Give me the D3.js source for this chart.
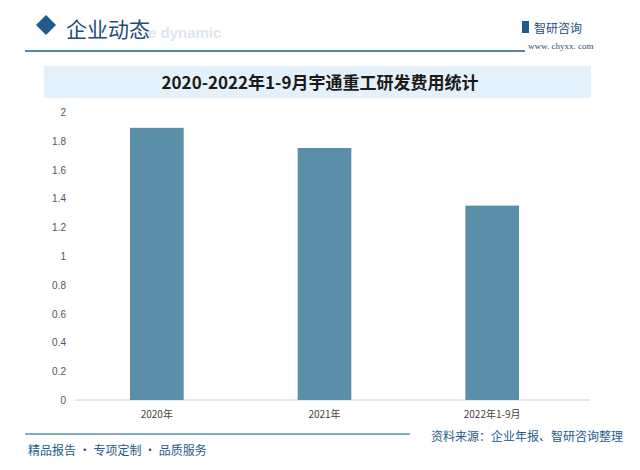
<!DOCTYPE html><html><head><meta charset="utf-8"><script src="https://cdn.jsdelivr.net/npm/d3@7"></script>
<style>body{margin:0;background:#fff}svg{display:block;font-family:"Noto Sans CJK SC",sans-serif}</style></head><body>
<svg id="c" width="640" height="470"></svg>
<script>
const categories=["2020年","2021年","2022年1-9月"];
const values=[1.89,1.75,1.35];
const yTicks=[0,0.2,0.4,0.6,0.8,1,1.2,1.4,1.6,1.8,2];
const svg=d3.select("#c");
// header
svg.append("path").attr("d","M36 25 L46 15 L56 25 L46 35Z").attr("fill","#1f5c8c");
svg.append("text").attr("x",66).attr("y",37).attr("font-size",21).attr("fill","#1f4e79").text("企业动态");
svg.append("text").attr("x",148).attr("y",38).attr("font-size",15).attr("font-weight","bold").attr("fill","#dde6ef").attr("font-family","Liberation Sans").text("e dynamic");
svg.append("line").attr("x1",25).attr("x2",525).attr("y1",51).attr("y2",51).attr("stroke","#1f5c8c").attr("stroke-width",1.5);
svg.append("rect").attr("x",522).attr("y",21).attr("width",7).attr("height",12).attr("fill","#1f5c8c");
svg.append("text").attr("x",534).attr("y",33).attr("font-size",12).attr("fill","#1f4e79").text("智研咨询");
svg.append("text").attr("x",528).attr("y",49).attr("font-size",9).attr("fill","#1f4e79").attr("font-family","Liberation Serif").text("www. chyxx. com");
svg.append("rect").attr("x",44).attr("y",66).attr("width",547).attr("height",32).attr("fill","#e4f1fa");
svg.append("text").attr("x",320).attr("y",89).attr("text-anchor","middle").attr("font-size",17).attr("font-weight","bold").attr("fill","#1a1a1a").attr("font-family","Noto Sans CJK SC").text("2020-2022年1-9月宇通重工研发费用统计");
// chart
const x=d3.scaleBand().domain(categories).range([73,576]).paddingInner(0.68).paddingOuter(0.34);
const y=d3.scaleLinear().domain([0,2]).range([400,112]);
const g=svg.append("g");
g.append("line").attr("x1",75).attr("x2",590).attr("y1",400).attr("y2",400).attr("stroke","#d0d0d0");
g.selectAll(".yt").data(yTicks).join("text").attr("x",66).attr("y",d=>y(d)+4).attr("text-anchor","end").attr("font-size",10).attr("fill","#555").attr("font-family","Liberation Sans").text(d=>d);
g.selectAll(".bar").data(values).join("rect").attr("x",(d,i)=>x(categories[i])).attr("width",x.bandwidth()).attr("y",d=>y(d)).attr("height",d=>400-y(d)).attr("fill","#5b8fa8");
g.selectAll(".xt").data(categories).join("text").attr("x",d=>x(d)+x.bandwidth()/2).attr("y",418).attr("text-anchor","middle").attr("font-size",10).attr("fill","#444").text(d=>d);
// footer
svg.append("line").attr("x1",25).attr("x2",410).attr("y1",434).attr("y2",434).attr("stroke","#5b8fa8").attr("stroke-width",1.5);
svg.append("text").attr("x",28).attr("y",455).attr("font-size",12).attr("fill","#1f5c8c").text("精品报告 · 专项定制 · 品质服务");
svg.append("text").attr("x",623).attr("y",441).attr("text-anchor","end").attr("font-size",12).attr("fill","#1f5c8c").text("资料来源：企业年报、智研咨询整理");
</script></body></html>
